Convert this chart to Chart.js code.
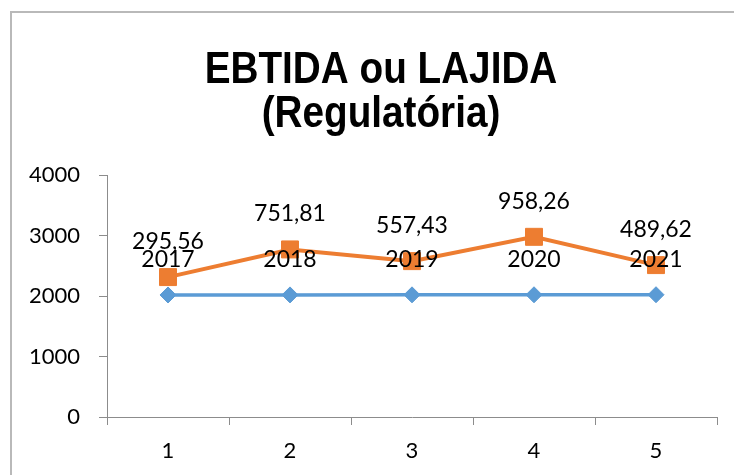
<!DOCTYPE html>
<html>
<head>
<meta charset="utf-8">
<script src="https://cdn.jsdelivr.net/npm/chart.js@4/dist/chart.umd.min.js"></script>
<style>
  html, body { margin: 0; padding: 0; background: #fff; }
  canvas { display: block; }
</style>
</head>
<body>
<canvas id="c" width="734" height="475"></canvas>
<script>
// ---- data ----
const categories = ['1', '2', '3', '4', '5'];
const yearValues = [2017, 2018, 2019, 2020, 2021];
const ebitdaValues = [295.56, 751.81, 557.43, 958.26, 489.62];
const yTicks = [0, 1000, 2000, 3000, 4000];
const titleLines = ['EBTIDA ou LAJIDA', '(Regulatória)'];

const LABEL_FONT = 'Lato, "Open Sans", "Noto Sans", sans-serif';

function fmt(v) {
  return Number.isInteger(v) ? String(v) : v.toFixed(2).replace('.', ',');
}

const framePlugin = {
  id: 'frame',
  beforeDraw(chart) {
    const ctx = chart.ctx;
    ctx.save();
    ctx.fillStyle = '#ffffff';
    ctx.fillRect(0, 0, chart.width, chart.height);
    ctx.fillStyle = '#b9b9b9';
    ctx.fillRect(10, 11, chart.width - 10, 2);
    ctx.fillRect(10, 11, 2, chart.height - 11);
    ctx.restore();
  }
};

const titlePlugin = {
  id: 'excelTitle',
  afterDraw(chart) {
    const ctx = chart.ctx;
    ctx.save();
    ctx.font = 'bold 45px "Liberation Sans", Arial, sans-serif';
    ctx.fillStyle = '#000';
    ctx.textAlign = 'center';
    ctx.textBaseline = 'alphabetic';
    const cx = 381;
    const baselines = [83, 127];
    titleLines.forEach((t, i) => {
      ctx.save();
      ctx.translate(cx, baselines[i]);
      ctx.scale(0.86, 1);
      ctx.fillText(t, 0, 0);
      ctx.restore();
    });
    ctx.restore();
  }
};

const labelPlugin = {
  id: 'pointLabels',
  afterDatasetsDraw(chart) {
    const ctx = chart.ctx;
    ctx.save();
    ctx.font = '23px ' + LABEL_FONT;
    ctx.fillStyle = '#000';
    ctx.textAlign = 'center';
    ctx.textBaseline = 'middle';
    chart.data.datasets.forEach((ds, di) => {
      const meta = chart.getDatasetMeta(di);
      meta.data.forEach((pt, i) => {
        ctx.fillText(fmt(ds.data[i]), pt.x, pt.y - 35.5);
      });
    });
    ctx.restore();
  }
};

new Chart(document.getElementById('c'), {
  type: 'line',
  data: {
    labels: categories,
    datasets: [
      {
        label: 'Ano',
        data: yearValues,
        borderColor: '#5B9BD5',
        backgroundColor: '#5B9BD5',
        borderWidth: 3.5,
        pointStyle: 'rectRot',
        pointRadius: 8,
        pointBorderWidth: 1,
        tension: 0,
        fill: false
      },
      {
        label: 'EBTIDA',
        data: ebitdaValues,
        borderColor: '#ED7D31',
        backgroundColor: '#ED7D31',
        borderWidth: 4,
        pointStyle: 'rect',
        pointRadius: 12,
        pointBorderWidth: 1,
        tension: 0,
        fill: false
      }
    ]
  },
  options: {
    responsive: false,
    animation: false,
    devicePixelRatio: 1,
    layout: { padding: { top: 175, right: 17, left: 0, bottom: 0 } },
    plugins: {
      legend: { display: false },
      title: { display: false },
      tooltip: { enabled: false }
    },
    scales: {
      x: {
        type: 'category',
        offset: true,
        grid: { display: true, drawOnChartArea: false, drawTicks: true, tickLength: 8, color: '#8c8c8c', offset: true },
        border: { display: true, color: '#8c8c8c', width: 1 },
        ticks: { color: '#000', font: { family: LABEL_FONT, size: 22 }, padding: 13, maxRotation: 0 },
        afterFit(scale) { scale.height = 58; }
      },
      y: {
        stacked: true,
        min: 0,
        max: 4000,
        afterBuildTicks(scale) { scale.ticks = yTicks.map(v => ({ value: v })); },
        grid: { display: true, drawOnChartArea: false, drawTicks: true, tickLength: 8, color: '#8c8c8c' },
        border: { display: true, color: '#8c8c8c', width: 1 },
        ticks: {
          color: '#000',
          font: { family: LABEL_FONT, size: 22 },
          padding: 19,
          callback: (v) => String(v)
        },
        afterFit(scale) { scale.width = 107; }
      }
    }
  },
  plugins: [framePlugin, titlePlugin, labelPlugin]
});
</script>
</body>
</html>
